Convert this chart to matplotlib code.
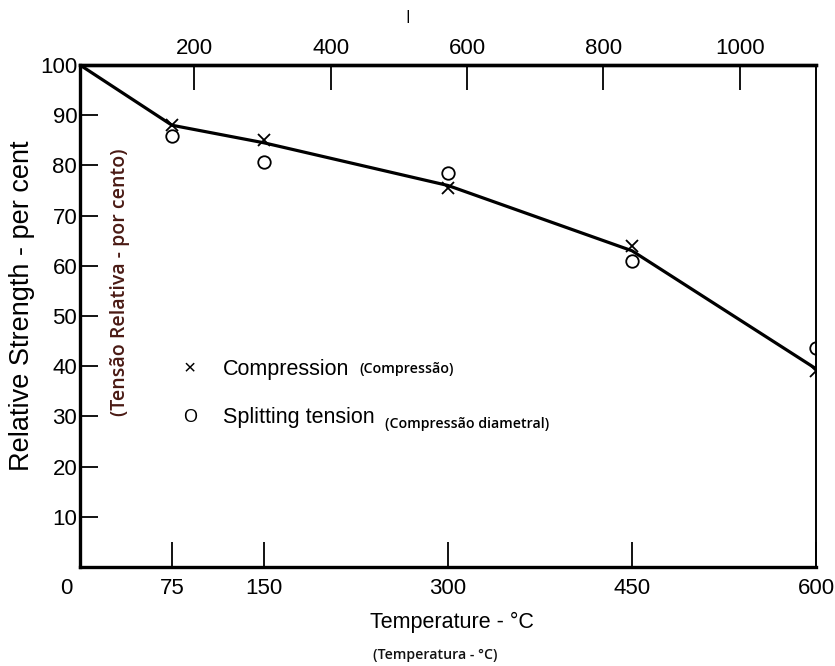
import matplotlib
matplotlib.use('Agg')
import matplotlib.pyplot as plt

# Data
temps_c = [75, 150, 300, 450, 600]
compression = [88.0, 85.0, 75.5, 64.0, 39.0]
splitting = [85.8, 80.6, 78.5, 61.0, 43.6]

# Smooth trend line drawn through the points
line_temps = [0, 75, 150, 300, 450, 600]
line_values = [100, 88.0, 84.5, 76.0, 63.0, 39.5]

x_ticks = [0, 75, 150, 300, 450, 600]
y_ticks = [10, 20, 30, 40, 50, 60, 70, 80, 90, 100]
f_ticks = [200, 400, 600, 800, 1000]

SANS = ['Liberation Sans', 'DejaVu Sans']
PT_FONT = ['Open Sans', 'DejaVu Sans']


def c2f(c):
    return c * 9.0 / 5.0 + 32


def f2c(f):
    return (f - 32) * 5.0 / 9.0


fig = plt.figure(figsize=(8.35, 6.66), dpi=100)
ax = fig.add_axes([0.0958, 0.1486, 0.8814, 0.7538])

# Trend line and data markers
ax.plot(line_temps, line_values, color='black', lw=2.3, zorder=2)
ax.plot(temps_c, compression, 'x', color='black', ms=8, mew=1.3, zorder=3)
ax.plot(temps_c, splitting, 'o', mfc='none', mec='black', ms=9, mew=1.3, zorder=3)

ax.set_xlim(0, 600)
ax.set_ylim(0, 100)

# the "0" sits left of the corner in the scan, so it is placed by hand
ax.set_xticks(x_ticks)
ax.set_xticklabels([''] + [str(t) for t in x_ticks[1:]], fontfamily=SANS, fontsize=16)
ax.annotate(str(x_ticks[0]), xy=(x_ticks[0], 0), xycoords=('data', 'axes fraction'),
            xytext=(-9.5, -15.5), textcoords='offset points', ha='center', va='center',
            fontfamily=SANS, fontsize=16)
ax.set_yticks(y_ticks)
ax.set_yticklabels([str(t) for t in y_ticks], fontfamily=SANS, fontsize=16)

ax.tick_params(axis='x', direction='in', length=18, width=1.3, pad=8)
ax.tick_params(axis='y', direction='in', length=13, width=1.3, pad=2)

for side in ['left', 'bottom', 'top']:
    ax.spines[side].set_linewidth(2.4)
ax.spines['right'].set_linewidth(1.4)

# Fahrenheit scale on top
sec = ax.secondary_xaxis('top', functions=(c2f, f2c))
sec.set_xticks(f_ticks)
sec.set_xticklabels([str(t) for t in f_ticks], fontfamily=SANS, fontsize=16)
sec.tick_params(direction='in', length=18, width=1.3, pad=4)
sec.spines['top'].set_linewidth(2.4)

# Axis titles
ax.set_ylabel('Relative Strength - per cent', fontfamily=SANS, fontsize=19.5)
ax.yaxis.set_label_coords(-0.061, 0.52)
ax.text(0.054, 0.568, '(Tensão Relativa - por cento)', transform=ax.transAxes,
        rotation=90, ha='center', va='center', fontfamily=PT_FONT,
        fontsize=14, fontweight='semibold', color='#4a1a14')

fig.text(0.541, 0.065, 'Temperature - °C', ha='center', va='center',
         fontfamily=SANS, fontsize=15.5)
fig.text(0.521, 0.017, '(Temperatura - °C)', ha='center', va='center',
         fontfamily=PT_FONT, fontsize=10.2, fontweight='semibold', color='#111111')

# Legend written as text
ax.text(0.149, 0.394, '×', transform=ax.transAxes, ha='center', va='center',
        fontsize=15, fontfamily=SANS)
ax.text(0.194, 0.394, 'Compression', transform=ax.transAxes, ha='left', va='center',
        fontsize=15.5, fontfamily=SANS)
ax.text(0.380, 0.394, '(Compressão)', transform=ax.transAxes, ha='left', va='center',
        fontsize=10.3, fontweight='semibold', fontfamily=PT_FONT)
ax.text(0.149, 0.297, 'O', transform=ax.transAxes, ha='center', va='center',
        fontsize=13, fontfamily=SANS)
ax.text(0.194, 0.297, 'Splitting tension', transform=ax.transAxes, ha='left', va='center',
        fontsize=15.5, fontfamily=SANS)
ax.text(0.414, 0.285, '(Compressão diametral)', transform=ax.transAxes, ha='left',
        va='center', fontsize=10.2, fontweight='semibold', fontfamily=PT_FONT)

# small stray mark above the plot in the scan
fig.text(0.488, 0.975, '|', ha='center', va='center', fontsize=9, fontweight='bold')

fig.savefig('out.png', dpi=100)
